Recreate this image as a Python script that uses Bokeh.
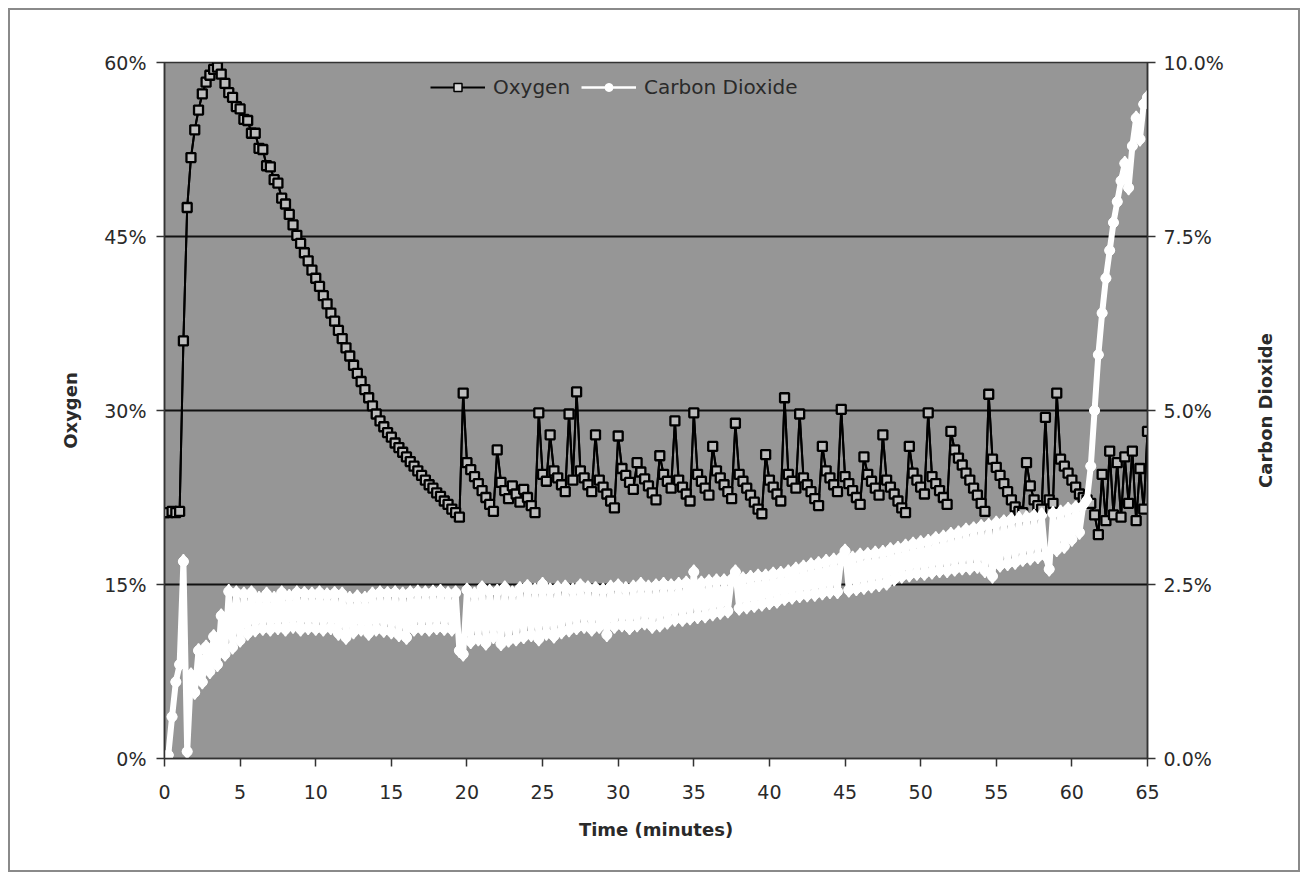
from bokeh.plotting import figure
from bokeh.layouts import row
from bokeh.models import (Range1d, LinearAxis, FixedTicker, PrintfTickFormatter,
                          Legend, LegendItem, ColumnDataSource, Title)
from bokeh.embed import file_html
from bokeh.resources import INLINE

# sample clock: one reading every 15 seconds (0.25 min)
minutes = [i * 0.25 for i in range(261)]

# Oxygen (%), values, 4 samples per minute
oxygen = [
    21.2, 21.2, 21.3, 21.2,   # 0
    21.3, 36.0, 47.5, 51.8,   # 1
    54.2, 55.9, 57.3, 58.3,   # 2
    58.9, 59.4, 59.6, 59.0,   # 3
    58.2, 57.4, 57.0, 56.2,   # 4
    56.0, 55.1, 55.0, 53.9,   # 5
    53.9, 52.6, 52.5, 51.1,   # 6
    51.0, 49.9, 49.6, 48.3,   # 7
    47.8, 46.9, 46.0, 45.1,   # 8
    44.4, 43.6, 42.9, 42.1,   # 9
    41.4, 40.7, 39.9, 39.2,   # 10
    38.4, 37.7, 36.9, 36.2,   # 11
    35.4, 34.7, 33.9, 33.2,   # 12
    32.5, 31.8, 31.1, 30.4,   # 13
    29.7, 29.1, 28.6, 28.1,   # 14
    27.7, 27.2, 26.8, 26.4,   # 15
    26.0, 25.6, 25.2, 24.8,   # 16
    24.4, 24.0, 23.6, 23.3,   # 17
    22.9, 22.6, 22.2, 21.9,   # 18
    21.5, 21.2, 20.8, 31.5,   # 19
    25.5, 24.9, 24.3, 23.7,   # 20
    23.1, 22.5, 21.9, 21.3,   # 21
    26.6, 23.8, 23.1, 22.4,   # 22
    23.5, 22.8, 22.1, 23.2,   # 23
    22.5, 21.8, 21.2, 29.8,   # 24
    24.5, 23.9, 27.9, 24.8,   # 25
    24.2, 23.6, 23.0, 29.7,   # 26
    24.0, 31.6, 24.8, 24.2,   # 27
    23.6, 23.0, 27.9, 24.0,   # 28
    23.4, 22.8, 22.2, 21.6,   # 29
    27.8, 25.0, 24.4, 23.8,   # 30
    23.2, 25.5, 24.7, 24.1,   # 31
    23.5, 22.9, 22.3, 26.1,   # 32
    24.5, 23.9, 23.3, 29.1,   # 33
    24.0, 23.4, 22.8, 22.2,   # 34
    29.8, 24.5, 23.9, 23.3,   # 35
    22.7, 26.9, 24.8, 24.2,   # 36
    23.6, 23.0, 22.4, 28.9,   # 37
    24.5, 23.9, 23.3, 22.7,   # 38
    22.1, 21.5, 21.1, 26.2,   # 39
    24.0, 23.4, 22.8, 22.2,   # 40
    31.1, 24.5, 23.9, 23.3,   # 41
    29.7, 24.2, 23.6, 23.0,   # 42
    22.4, 21.8, 26.9, 24.8,   # 43
    24.2, 23.6, 23.0, 30.1,   # 44
    24.3, 23.7, 23.1, 22.5,   # 45
    21.9, 26.0, 24.5, 23.9,   # 46
    23.3, 22.7, 27.9, 24.0,   # 47
    23.4, 22.8, 22.2, 21.6,   # 48
    21.2, 26.9, 24.6, 24.0,   # 49
    23.4, 22.8, 29.8, 24.3,   # 50
    23.7, 23.1, 22.5, 21.9,   # 51
    28.2, 26.6, 25.9, 25.3,   # 52
    24.6, 24.0, 23.3, 22.7,   # 53
    22.0, 21.3, 31.4, 25.8,   # 54
    25.1, 24.4, 23.7, 23.0,   # 55
    22.3, 21.7, 21.3, 21.2,   # 56
    25.5, 23.5, 22.3, 21.8,   # 57
    21.5, 29.4, 22.3, 22.0,   # 58
    31.5, 25.8, 25.2, 24.6,   # 59
    24.0, 23.4, 22.8, 22.5,   # 60
    22.3, 22.0, 21.0, 19.3,   # 61
    24.5, 20.5, 26.5, 21.0,   # 62
    25.5, 20.8, 26.0, 22.0,   # 63
    26.5, 20.5, 25.0, 21.5,   # 64
    28.2,                     # 65
]

# Carbon dioxide (%), 4 samples per minute
carbon_dioxide = [
    0.00, 0.05, 0.60, 1.10,   # 0
    1.35, 2.83, 0.10, 1.20,   # 1
    0.95, 1.55, 1.10, 1.60,   # 2
    1.25, 1.75, 1.35, 2.05,   # 3
    1.50, 2.40, 1.60, 2.38,   # 4
    1.70, 2.36, 1.80, 2.38,   # 5
    1.85, 2.30, 1.87, 2.36,   # 6
    1.86, 2.30, 1.88, 2.38,   # 7
    1.86, 2.33, 1.90, 2.38,   # 8
    1.86, 2.37, 1.88, 2.36,   # 9
    1.87, 2.38, 1.86, 2.35,   # 10
    1.88, 2.37, 1.80, 2.36,   # 11
    1.74, 2.30, 1.82, 2.32,   # 12
    1.86, 2.30, 1.80, 2.36,   # 13
    1.86, 2.38, 1.84, 2.37,   # 14
    1.82, 2.38, 1.78, 2.36,   # 15
    1.74, 2.38, 1.86, 2.39,   # 16
    1.87, 2.38, 1.86, 2.39,   # 17
    1.88, 2.40, 1.87, 2.37,   # 18
    1.86, 2.38, 1.55, 1.50,   # 19
    2.42, 1.68, 2.36, 1.72,   # 20
    2.45, 1.66, 2.40, 1.75,   # 21
    2.40, 1.65, 2.45, 1.70,   # 22
    2.38, 1.72, 2.44, 1.75,   # 23
    2.47, 1.78, 2.42, 1.72,   # 24
    2.50, 1.80, 2.42, 1.76,   # 25
    2.45, 1.82, 2.46, 1.85,   # 26
    2.42, 1.88, 2.48, 1.90,   # 27
    2.45, 1.86, 2.44, 1.90,   # 28
    2.42, 1.78, 2.46, 1.90,   # 29
    2.48, 1.92, 2.44, 1.88,   # 30
    2.46, 1.92, 2.50, 1.95,   # 31
    2.46, 1.90, 2.48, 1.92,   # 32
    2.50, 1.96, 2.48, 2.00,   # 33
    2.50, 2.00, 2.52, 2.02,   # 34
    2.68, 2.04, 2.52, 2.05,   # 35
    2.54, 2.08, 2.55, 2.10,   # 36
    2.55, 2.12, 2.57, 2.68,   # 37
    2.16, 2.58, 2.18, 2.60,   # 38
    2.20, 2.62, 2.22, 2.62,   # 39
    2.24, 2.65, 2.26, 2.66,   # 40
    2.30, 2.68, 2.32, 2.72,   # 41
    2.34, 2.75, 2.35, 2.78,   # 42
    2.36, 2.80, 2.38, 2.83,   # 43
    2.40, 2.85, 2.40, 2.88,   # 44
    2.98, 2.42, 2.88, 2.44,   # 45
    2.92, 2.46, 2.93, 2.48,   # 46
    2.95, 2.50, 2.96, 2.52,   # 47
    3.00, 2.58, 3.02, 2.62,   # 48
    3.05, 2.64, 3.08, 2.66,   # 49
    3.10, 2.66, 3.12, 2.68,   # 50
    3.16, 2.70, 3.18, 2.70,   # 51
    3.22, 2.72, 3.24, 2.74,   # 52
    3.28, 2.74, 3.30, 2.76,   # 53
    3.33, 2.70, 3.35, 2.62,   # 54
    3.38, 2.78, 3.40, 2.80,   # 55
    3.43, 2.82, 3.45, 2.86,   # 56
    3.46, 2.88, 3.48, 2.90,   # 57
    3.50, 2.92, 2.72, 3.52,   # 58
    3.00, 3.54, 3.05, 3.58,   # 59
    3.15, 3.60, 3.25, 3.64,   # 60
    3.72, 4.20, 5.00, 5.80,   # 61
    6.40, 6.90, 7.30, 7.70,   # 62
    8.00, 8.30, 8.55, 8.20,   # 63
    8.80, 9.20, 8.90, 9.40,   # 64
    9.50,                     # 65
]

time_ticks = [0, 5, 10, 15, 20, 25, 30, 35, 40, 45, 50, 55, 60, 65]
oxygen_ticks = [0, 15, 30, 45, 60]
co2_ticks = [0, 2.5, 5, 7.5, 10]

FONT = "DejaVu Sans"
TXT = "#2a2a2a"

src = ColumnDataSource(dict(t=minutes, o2=oxygen, co2=carbon_dioxide))

p = figure(width=1240, height=860, output_backend="svg", toolbar_location=None,
           x_range=Range1d(0, 65), y_range=Range1d(0, 60),
           min_border_left=154, min_border_right=103,
           min_border_top=52, min_border_bottom=112)
p.background_fill_color = "#969696"
p.border_fill_color = "white"
p.outline_line_color = "#333333"
p.outline_line_width = 1.5

p.xgrid.visible = False
p.ygrid.ticker = FixedTicker(ticks=oxygen_ticks)
p.ygrid.grid_line_color = "#111111"
p.ygrid.grid_line_width = 1.8

p.extra_y_ranges = {"co2": Range1d(0, 10)}
right = LinearAxis(y_range_name="co2")
p.add_layout(right, "right")

xa = p.xaxis[0]
ya = p.yaxis[0]
xa.ticker = FixedTicker(ticks=time_ticks)
ya.ticker = FixedTicker(ticks=oxygen_ticks)
right.ticker = FixedTicker(ticks=co2_ticks)
ya.formatter = PrintfTickFormatter(format="%d%%")
right.formatter = PrintfTickFormatter(format="%.1f%%")
xa.axis_label = "Time (minutes)"
ya.axis_label = "Oxygen"

for ax in (xa, ya, right):
    ax.axis_line_color = "#333333"
    ax.axis_line_width = 1.5
    ax.major_tick_line_color = "#333333"
    ax.major_tick_line_width = 1.5
    ax.major_tick_out = 8
    ax.major_tick_in = 0
    ax.minor_tick_out = 0
    ax.minor_tick_in = 0
    ax.major_label_text_font = FONT
    ax.major_label_text_font_size = "19px"
    ax.major_label_text_color = TXT
    ax.axis_label_text_font = FONT
    ax.axis_label_text_font_style = "bold"
    ax.axis_label_text_font_size = "18px"
    ax.axis_label_text_color = TXT

ya.major_label_standoff = 10
ya.axis_label_standoff = 20
right.major_label_standoff = 8
xa.major_label_standoff = 18
xa.axis_label_standoff = 17

# legend keys (thinner key styles), hidden underneath the real series
key_o2_line = p.line("t", "o2", source=src, line_color="black", line_width=2)
key_o2_pt = p.scatter("t", "o2", source=src, marker="square", size=7,
                      line_color="black", line_width=1.5, fill_color="#d8d8d8")
key_co2_line = p.line("t", "co2", source=src, y_range_name="co2",
                      line_color="white", line_width=2.5)
key_co2_pt = p.scatter("t", "co2", source=src, y_range_name="co2", marker="circle",
                       size=10, line_color="white", fill_color="white")

o2_line = p.line("t", "o2", source=src, line_color="black", line_width=2)
o2_pts = p.scatter("t", "o2", source=src, marker="square", size=9,
                   line_color="black", line_width=2.3, fill_color="#bdbdbd")
co2_line = p.line("t", "co2", source=src, y_range_name="co2",
                  line_color="white", line_width=6)
co2_pts = p.scatter("t", "co2", source=src, y_range_name="co2", marker="diamond",
                    size=14, line_color="white", line_width=1.5, fill_color="white")

legend = Legend(items=[LegendItem(label="Oxygen", renderers=[key_o2_line, key_o2_pt]),
                       LegendItem(label="Carbon Dioxide", renderers=[key_co2_line, key_co2_pt])],
                location=(266, 659), orientation="horizontal",
                background_fill_alpha=0, border_line_alpha=0,
                padding=0, margin=0, spacing=11,
                glyph_width=55, glyph_height=20, label_standoff=8,
                label_text_font=FONT, label_text_font_size="20px",
                label_text_color=TXT)
p.add_layout(legend)

# narrow strip on the right carrying the CO2 axis title (reads bottom-to-top)
q = figure(width=48, height=860, output_backend="svg", toolbar_location=None,
           x_axis_location=None, y_axis_location=None,
           x_range=Range1d(0, 1), y_range=Range1d(0, 1),
           min_border_left=0, min_border_right=0,
           min_border_top=52, min_border_bottom=112)
q.grid.visible = False
q.outline_line_color = None
q.background_fill_color = "white"
q.border_fill_color = "white"
q.add_layout(Title(text="Carbon Dioxide", align="center", text_font=FONT,
                   text_font_style="bold", text_font_size="18px",
                   text_color=TXT, standoff=4), "left")

layout = row(p, q, styles={"border": "2px solid #8a8a8a", "margin": "8px"})

open("out.html", "w").write(file_html(layout, INLINE))
